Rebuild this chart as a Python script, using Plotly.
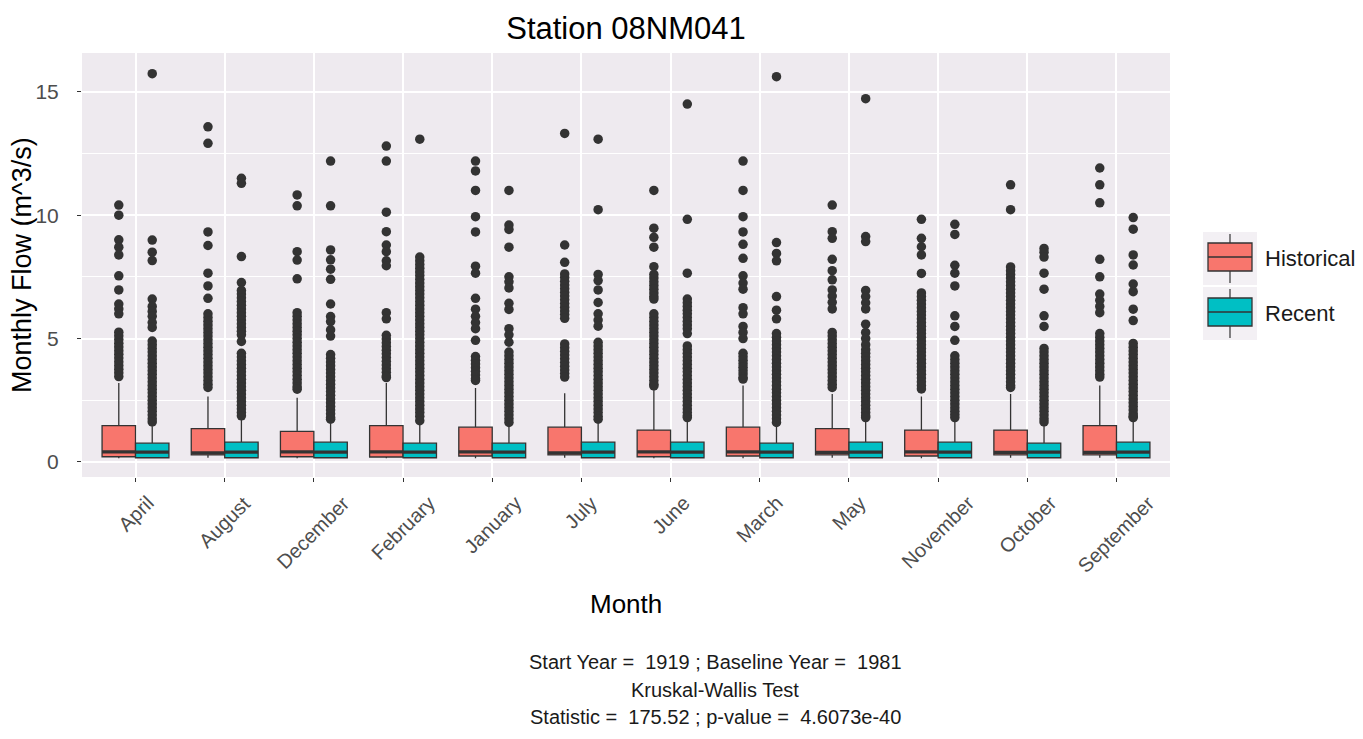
import plotly.graph_objects as go

# ---- data -------------------------------------------------------------
months = ["April", "August", "December", "February", "January", "July",
          "June", "March", "May", "November", "October", "September"]

# Historical period box statistics (m^3/s)
hist_q1 = [0.21, 0.29, 0.21, 0.20, 0.24, 0.29, 0.21, 0.24, 0.29, 0.24, 0.29, 0.29]
hist_median = [0.41, 0.37, 0.41, 0.41, 0.41, 0.37, 0.41, 0.41, 0.39, 0.41, 0.39, 0.39]
hist_q3 = [1.47, 1.35, 1.24, 1.47, 1.41, 1.41, 1.29, 1.41, 1.35, 1.29, 1.29, 1.47]
hist_low = [0.15, 0.17, 0.15, 0.15, 0.15, 0.17, 0.15, 0.15, 0.17, 0.15, 0.17, 0.17]
hist_high = [3.2, 2.65, 2.6, 3.2, 3.0, 2.78, 2.9, 3.1, 2.75, 2.65, 2.75, 3.1]

# Recent period box statistics (m^3/s)
rec_q1 = [0.17] * 12
rec_median = [0.40, 0.40, 0.40, 0.40, 0.40, 0.40, 0.40, 0.40, 0.40, 0.40, 0.40, 0.40]
rec_q3 = [0.76, 0.80, 0.80, 0.76, 0.76, 0.80, 0.80, 0.76, 0.80, 0.80, 0.76, 0.80]
rec_low = [0.15] * 12
rec_high = [1.45, 1.70, 1.56, 1.50, 1.45, 1.56, 1.63, 1.45, 1.63, 1.63, 1.45, 1.63]

# Outlying monthly flows, one list per month
hist_outliers = [
    [10.41, 10.0, 9.0, 8.7, 8.39, 7.54, 6.97, 6.4, 6.2, 6.0, 5.26, 5.11, 4.96, 4.81,
     4.66, 4.51, 4.36, 4.21, 4.06, 3.91, 3.76, 3.61, 3.46],
    [13.58, 12.91, 9.32, 8.77, 7.65, 7.13, 6.63, 6.0, 5.85, 5.7, 5.55, 5.4, 5.25, 5.1,
     4.95, 4.8, 4.65, 4.5, 4.35, 4.2, 4.05, 3.9, 3.75, 3.6, 3.45, 3.3, 3.15, 3.02],
    [10.82, 10.38, 8.52, 8.18, 7.42, 6.05, 5.9, 5.75, 5.6, 5.45, 5.3, 5.15, 5.0, 4.85,
     4.7, 4.55, 4.4, 4.25, 4.1, 3.95, 3.8, 3.65, 3.5, 3.35, 3.2, 3.05, 2.95],
    [12.8, 12.19, 10.12, 9.33, 8.79, 8.52, 8.15, 7.95, 6.05, 5.8, 5.13, 4.98, 4.83,
     4.68, 4.53, 4.38, 4.23, 4.08, 3.93, 3.78, 3.63, 3.48, 3.42],
    [12.19, 11.79, 11.0, 9.94, 9.32, 7.93, 7.65, 6.63, 6.19, 5.9, 5.65, 5.4, 4.93,
     4.27, 4.12, 3.97, 3.82, 3.67, 3.52, 3.37, 3.3],
    [13.31, 8.79, 8.09, 7.62, 7.47, 7.32, 7.17, 7.02, 6.87, 6.72, 6.57, 6.42, 6.27,
     6.12, 5.97, 5.82, 4.78, 4.63, 4.48, 4.33, 4.18, 4.03, 3.88, 3.73, 3.58, 3.44],
    [11.0, 9.47, 9.1, 8.7, 7.91, 7.6, 7.45, 7.3, 7.15, 7.0, 6.85, 6.7, 6.6, 6.0, 5.85,
     5.7, 5.55, 5.4, 5.25, 5.1, 4.95, 4.8, 4.65, 4.5, 4.35, 4.2, 4.05, 3.9, 3.75, 3.6,
     3.45, 3.3, 3.15, 3.08],
    [12.19, 11.0, 9.94, 9.32, 8.82, 8.25, 7.54, 7.25, 7.0, 6.25, 6.0, 5.49, 5.25, 5.0,
     4.4, 4.26, 4.12, 3.98, 3.84, 3.7, 3.56, 3.42, 3.36],
    [10.41, 9.33, 9.06, 8.21, 7.75, 7.38, 6.97, 6.72, 6.47, 6.2, 5.25, 5.1, 4.95, 4.8,
     4.65, 4.5, 4.35, 4.2, 4.05, 3.9, 3.75, 3.6, 3.45, 3.3, 3.15, 3.02],
    [9.83, 9.06, 8.72, 8.39, 7.64, 6.85, 6.7, 6.55, 6.4, 6.25, 6.1, 5.95, 5.8, 5.65,
     5.5, 5.35, 5.2, 5.05, 4.9, 4.75, 4.6, 4.45, 4.3, 4.15, 4.0, 3.85, 3.7, 3.55, 3.4,
     3.25, 3.1, 2.96],
    [11.23, 10.22, 7.9, 7.75, 7.6, 7.45, 7.3, 7.15, 7.0, 6.85, 6.7, 6.55, 6.4, 6.25,
     6.1, 5.95, 5.8, 5.65, 5.5, 5.35, 5.2, 5.05, 4.9, 4.75, 4.6, 4.45, 4.3, 4.15, 4.0,
     3.85, 3.7, 3.55, 3.4, 3.25, 3.1, 3.02],
    [11.91, 11.23, 10.5, 8.21, 7.5, 6.8, 6.55, 6.3, 6.05, 5.2, 5.05, 4.9, 4.75, 4.6,
     4.45, 4.3, 4.15, 4.0, 3.85, 3.7, 3.55, 3.44],
]

rec_outliers = [
    [15.73, 8.99, 8.5, 8.16, 6.6, 6.3, 6.1, 5.9, 5.65, 5.45, 4.9, 4.75, 4.6, 4.45,
     4.3, 4.15, 4.0, 3.85, 3.7, 3.55, 3.4, 3.25, 3.1, 2.95, 2.8, 2.65, 2.5, 2.35, 2.2,
     2.05, 1.9, 1.75, 1.62],
    [11.49, 11.29, 8.32, 7.27, 6.95, 6.8, 6.65, 6.5, 6.35, 6.2, 6.05, 5.9, 5.75, 5.6,
     5.45, 5.3, 5.15, 4.88, 4.4, 4.25, 4.1, 3.95, 3.8, 3.65, 3.5, 3.35, 3.2, 3.05, 2.9,
     2.75, 2.6, 2.45, 2.3, 2.15, 2.0, 1.87],
    [12.19, 10.38, 8.59, 8.19, 7.81, 7.4, 6.4, 5.89, 5.69, 5.35, 5.1, 4.35, 4.2, 4.05,
     3.9, 3.75, 3.6, 3.45, 3.3, 3.15, 3.0, 2.85, 2.7, 2.55, 2.4, 2.25, 2.1, 1.95, 1.8,
     1.73],
    [13.08, 8.3, 8.15, 8.0, 7.85, 7.7, 7.55, 7.4, 7.25, 7.1, 6.95, 6.8, 6.65, 6.5,
     6.35, 6.2, 6.05, 5.9, 5.75, 5.6, 5.45, 5.3, 5.15, 5.0, 4.85, 4.7, 4.55, 4.4, 4.25,
     4.1, 3.95, 3.8, 3.65, 3.5, 3.35, 3.2, 3.05, 2.9, 2.75, 2.6, 2.45, 2.3, 2.15, 2.0,
     1.85, 1.67],
    [11.0, 9.6, 9.42, 8.7, 7.5, 7.3, 7.05, 6.43, 6.18, 5.4, 5.15, 4.85, 4.45, 4.3,
     4.15, 4.0, 3.85, 3.7, 3.55, 3.4, 3.25, 3.1, 2.95, 2.8, 2.65, 2.5, 2.35, 2.2, 2.05,
     1.9, 1.75, 1.6],
    [13.08, 10.22, 7.6, 7.35, 6.97, 6.46, 6.0, 5.75, 5.5, 4.85, 4.7, 4.55, 4.4, 4.25,
     4.1, 3.95, 3.8, 3.65, 3.5, 3.35, 3.2, 3.05, 2.9, 2.75, 2.6, 2.45, 2.3, 2.15, 2.0,
     1.85, 1.73],
    [14.5, 9.83, 7.65, 6.6, 6.45, 6.3, 6.15, 6.0, 5.85, 5.7, 5.55, 5.4, 5.2, 4.7, 4.55,
     4.4, 4.25, 4.1, 3.95, 3.8, 3.65, 3.5, 3.35, 3.2, 3.05, 2.9, 2.75, 2.6, 2.45, 2.3,
     2.15, 2.0, 1.87, 1.8],
    [15.61, 8.89, 8.45, 8.15, 6.7, 6.15, 5.8, 5.2, 5.05, 4.9, 4.75, 4.6, 4.45, 4.3,
     4.15, 4.0, 3.85, 3.7, 3.55, 3.4, 3.25, 3.1, 2.95, 2.8, 2.65, 2.5, 2.35, 2.2, 2.05,
     1.9, 1.75, 1.6],
    [14.72, 9.13, 8.93, 6.95, 6.7, 6.45, 6.2, 5.58, 5.25, 5.0, 4.75, 4.55, 4.4, 4.25,
     4.1, 3.95, 3.8, 3.65, 3.5, 3.35, 3.2, 3.05, 2.9, 2.75, 2.6, 2.45, 2.3, 2.15, 2.0,
     1.87, 1.8],
    [9.63, 9.22, 7.97, 7.65, 7.13, 5.92, 5.49, 4.93, 4.3, 4.15, 4.0, 3.85, 3.7, 3.55,
     3.4, 3.25, 3.1, 2.95, 2.8, 2.65, 2.5, 2.35, 2.2, 2.05, 1.92, 1.8],
    [8.65, 8.5, 8.3, 7.65, 7.0, 5.92, 5.49, 4.6, 4.45, 4.3, 4.15, 4.0, 3.85, 3.7, 3.55,
     3.4, 3.25, 3.1, 2.95, 2.8, 2.65, 2.5, 2.35, 2.2, 2.05, 1.9, 1.75, 1.62],
    [9.9, 9.43, 8.39, 7.98, 7.21, 6.9, 6.19, 5.73, 4.8, 4.65, 4.5, 4.35, 4.2, 4.05, 3.9,
     3.75, 3.6, 3.45, 3.3, 3.15, 3.0, 2.85, 2.7, 2.55, 2.4, 2.25, 2.1, 1.95, 1.85, 1.8],
]

title_text = "Station 08NM041"
x_title = "Month"
y_title = "Monthly Flow (m^3/s)"
caption_lines = [
    "Start Year =  1919 ; Baseline Year =  1981",
    "Kruskal-Wallis Test",
    "Statistic =  175.52 ; p-value =  4.6073e-40",
]

# ---- styling ----------------------------------------------------------
FONT = "Liberation Sans, Arial, sans-serif"
HIST_COLOR = "#F8766D"
REC_COLOR = "#00BFC4"
EDGE = "#333333"
PANEL = "#EEEAEF"
KEY_BG = "#F3F0F4"
BOX_W = 0.375

# plot-area geometry in pixels (figure 1363 x 739)
L, R, T, B = 82, 1170, 53, 477
W, H = 1363, 739


def xp(px):
    return (px - L) / (R - L)


def yp(py):
    return (B - py) / (B - T)


positions = list(range(1, len(months) + 1))

fig = go.Figure()

series = [
    ("Historical", HIST_COLOR, -BOX_W / 2, hist_q1, hist_median, hist_q3,
     hist_low, hist_high, hist_outliers),
    ("Recent", REC_COLOR, BOX_W / 2, rec_q1, rec_median, rec_q3,
     rec_low, rec_high, rec_outliers),
]

for name, color, shift, q1, med, q3, lo, hi, outs in series:
    xs = [p + shift for p in positions]
    fig.add_trace(go.Box(
        name=name, x=xs, q1=q1, median=med, q3=q3,
        lowerfence=lo, upperfence=hi, width=BOX_W,
        fillcolor=color, line=dict(color=EDGE, width=1.3),
        whiskerwidth=0, boxpoints=False, showlegend=False, hoverinfo="skip",
    ))
    # emphasised median bar
    mx, my = [], []
    for x, m in zip(xs, med):
        mx += [x - BOX_W / 2, x + BOX_W / 2, None]
        my += [m, m, None]
    fig.add_trace(go.Scatter(x=mx, y=my, mode="lines",
                             line=dict(color=EDGE, width=3.2),
                             showlegend=False, hoverinfo="skip"))
    # outlying points
    ox, oy = [], []
    for x, vals in zip(xs, outs):
        ox += [x] * len(vals)
        oy += vals
    fig.add_trace(go.Scatter(x=ox, y=oy, mode="markers",
                             marker=dict(color=EDGE, size=9.5, line=dict(width=0)),
                             showlegend=False, hoverinfo="skip"))

annotations = []
# rotated month labels
for p, m in zip(positions, months):
    annotations.append(dict(
        x=p, xref="x", y=0, yref="paper", yshift=-12,
        text=m, showarrow=False, textangle=-45,
        xanchor="center", yanchor="top",
        font=dict(family=FONT, size=20, color="#4D4D4D"),
    ))
# axis titles
annotations.append(dict(
    x=0.5, xref="paper", y=0, yref="paper", yshift=-(604 - B),
    text=x_title, showarrow=False, xanchor="center", yanchor="middle",
    font=dict(family=FONT, size=26, color="black"),
))
annotations.append(dict(
    x=0, xref="paper", xshift=-(L - 22), y=0.5, yref="paper",
    text=y_title, showarrow=False, textangle=-90,
    xanchor="center", yanchor="middle",
    font=dict(family=FONT, size=27, color="black"),
))
# caption
for line, cy in zip(caption_lines, [662, 690, 717]):
    annotations.append(dict(
        x=xp(715), xref="paper", y=0, yref="paper", yshift=-(cy - B),
        text=line, showarrow=False, xanchor="center", yanchor="middle",
        font=dict(family=FONT, size=20, color="#1A1A1A"),
    ))

# hand-built legend with box glyphs
shapes = []
legend_items = [("Historical", HIST_COLOR, 232), ("Recent", REC_COLOR, 287)]
for label, color, top in legend_items:
    shapes.append(dict(type="rect", xref="paper", yref="paper",
                       x0=xp(1203), x1=xp(1257), y0=yp(top), y1=yp(top + 53),
                       fillcolor=KEY_BG, line=dict(width=0), layer="above"))
    cx = xp(1230)
    shapes.append(dict(type="line", xref="paper", yref="paper",
                       x0=cx, x1=cx, y0=yp(top + 2), y1=yp(top + 51),
                       line=dict(color=EDGE, width=1.2), layer="above"))
    shapes.append(dict(type="rect", xref="paper", yref="paper",
                       x0=xp(1208), x1=xp(1252), y0=yp(top + 11), y1=yp(top + 39),
                       fillcolor=color, line=dict(color=EDGE, width=1.3),
                       layer="above"))
    shapes.append(dict(type="line", xref="paper", yref="paper",
                       x0=xp(1208), x1=xp(1252), y0=yp(top + 25), y1=yp(top + 25),
                       line=dict(color=EDGE, width=1.3), layer="above"))
    annotations.append(dict(
        x=xp(1263), xref="paper", y=yp(top + 26), yref="paper",
        text=label, showarrow=False, xanchor="left", yanchor="middle",
        font=dict(family=FONT, size=22, color="#1A1A1A"),
    ))

fig.update_layout(
    width=W, height=H,
    margin=dict(l=L, r=W - R, t=T, b=H - B, pad=0),
    paper_bgcolor="white", plot_bgcolor=PANEL,
    boxmode="overlay",
    title=dict(text=title_text, x=0.5, xref="paper", xanchor="center",
               y=1 - 28 / H, yanchor="middle", yref="container",
               font=dict(family=FONT, size=31, color="black")),
    xaxis=dict(range=[0.4, 12.6], tickvals=positions, showticklabels=False,
               ticks="outside", ticklen=4, tickcolor=EDGE, tickwidth=1,
               showgrid=True, gridcolor="white", gridwidth=1.6,
               zeroline=False, showline=False, fixedrange=True),
    yaxis=dict(range=[-0.61, 16.57], tickvals=[0, 5, 10, 15],
               ticktext=["0", "5", "10", "15"],
               ticks="outside", ticklen=4, tickcolor=EDGE, tickwidth=1,
               ticklabelstandoff=14,
               tickfont=dict(family=FONT, size=21, color="#4D4D4D"),
               showgrid=True, gridcolor="white", gridwidth=1.6,
               minor=dict(tickvals=[2.5, 7.5, 12.5], showgrid=True,
                          gridcolor="white", gridwidth=0.8, ticks=""),
               zeroline=False, showline=False, fixedrange=True),
    annotations=annotations,
    shapes=shapes,
    showlegend=False,
)

fig.write_html("out.html")
